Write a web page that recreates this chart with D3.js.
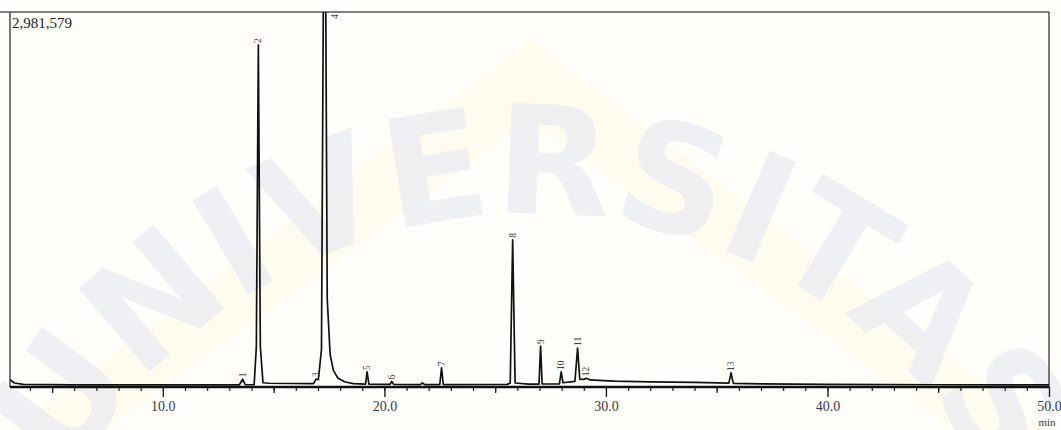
<!DOCTYPE html>
<html>
<head>
<meta charset="utf-8">
<script src="https://cdn.jsdelivr.net/npm/d3@7"></script>
<style>
	html, body { margin: 0; padding: 0; background: #fffefa; }
	svg { display: block; }
	.tick text { font-family: "Liberation Serif", "DejaVu Serif", serif; }
</style>
</head>
<body>
<div id="chrom"></div>
<script>
// chromatogram trace: [time (min), intensity]
var trace = [
	[ 3.10, 58000 ], [ 3.30, 32000 ], [ 3.70, 21000 ], [ 6.00, 17000 ], [ 13.45, 17000 ],
	[ 13.60, 62000 ], [ 13.72, 18000 ], [ 14.12, 19000 ], [ 14.22, 320000 ], [ 14.31, 2719000 ],
	[ 14.40, 320000 ], [ 14.52, 34000 ], [ 14.80, 30000 ], [ 16.80, 27000 ], [ 16.92, 64000 ],
	[ 17.02, 58000 ], [ 17.16, 300000 ], [ 17.30, 4900000 ], [ 17.42, 700000 ], [ 17.55, 260000 ],
	[ 17.70, 130000 ], [ 17.90, 72000 ], [ 18.20, 42000 ], [ 18.60, 27000 ], [ 19.15, 23000 ],
	[ 19.22, 120000 ], [ 19.30, 23000 ], [ 20.25, 21000 ], [ 20.33, 44000 ], [ 20.42, 21000 ],
	[ 21.62, 19000 ], [ 21.72, 32000 ], [ 21.82, 19000 ], [ 22.50, 19000 ], [ 22.58, 152000 ],
	[ 22.66, 19000 ], [ 25.55, 21000 ], [ 25.68, 32000 ], [ 25.79, 1170000 ], [ 25.90, 32000 ],
	[ 26.50, 23000 ], [ 26.98, 23000 ], [ 27.05, 326000 ], [ 27.12, 24000 ], [ 27.90, 24000 ],
	[ 27.98, 120000 ], [ 28.06, 34000 ], [ 28.60, 44000 ], [ 28.72, 310000 ], [ 28.82, 62000 ],
	[ 29.00, 60000 ], [ 29.10, 70000 ], [ 29.30, 56000 ], [ 29.90, 50000 ], [ 30.40, 46000 ],
	[ 32.00, 41000 ], [ 34.00, 36000 ], [ 35.55, 31000 ], [ 35.65, 112000 ], [ 35.75, 29000 ],
	[ 37.00, 25000 ], [ 40.00, 21000 ], [ 45.00, 18000 ], [ 50.00, 17000 ]
];

// peak numbers, retention times and apex heights
var peakNums = [ "1", "2", "3", "4", "5", "6", "7", "8", "9", "10", "11", "12", "13" ];
var peakTimes = [ 13.60, 14.31, 16.92, 17.30, 19.22, 20.33, 22.58, 25.79, 27.05, 27.98, 28.72, 29.10, 35.65 ];
var peakHeights = [ 62000, 2719000, 64000, 4900000, 120000, 44000, 152000, 1170000, 326000, 120000, 310000, 70000, 112000 ];

// axis settings
var timeRange = [ 3.1, 50 ];
var yMax = 2981579;
var majorTicks = [ 10, 20, 30, 40, 50 ];
var midTicks = [ 5, 15, 25, 35, 45 ];
var minorTicks = d3.range( 4, 50 );

var W = 1061, H = 430,
	frame = { left: 10, right: 1049, top: 12, bottom: 387 };

var svg = d3.select( "#chrom" ).append( "svg" )
	.attr( "width", W )
	.attr( "height", H );

/* faint watermark behind the chart */
var wm = svg.append( "g" ).attr( "class", "watermark" );
wm.append( "path" )
	.attr( "d", "M-40,470 L530,40 L1100,470 L1010,470 L530,120 L50,470 Z" )
	.attr( "fill", "#fcf8e2" )
	.attr( "opacity", 0.45 );
wm.append( "path" )
	.attr( "id", "wmArc" )
	.attr( "d", "M3,800 A530,530 0 1,1 1057,800" )
	.attr( "fill", "none" );
wm.append( "text" )
	.attr( "font-family", "DejaVu Sans, sans-serif" )
	.attr( "font-weight", "bold" )
	.attr( "font-size", 150 )
	.attr( "fill", "#ecedf3" )
	.attr( "opacity", 0.8 )
	.append( "textPath" )
	.attr( "href", "#wmArc" )
	.attr( "startOffset", "50%" )
	.attr( "text-anchor", "middle" )
	.text( "UNIVERSITAS" );

// scales
var x = d3.scaleLinear().domain( timeRange ).range( [ frame.left, frame.right ] );
var y = d3.scaleLinear().domain( [ 0, yMax ] ).range( [ frame.bottom, frame.top ] );

svg.append( "clipPath" ).attr( "id", "plotClip" )
	.append( "rect" )
	.attr( "x", frame.left ).attr( "y", frame.top )
	.attr( "width", frame.right - frame.left ).attr( "height", frame.bottom - frame.top );

// frame lines
svg.append( "line" )
	.attr( "x1", 0 ).attr( "x2", frame.right )
	.attr( "y1", frame.top ).attr( "y2", frame.top )
	.attr( "stroke", "#555" ).attr( "stroke-width", 1.6 );
svg.append( "line" )
	.attr( "x1", frame.left ).attr( "x2", frame.left )
	.attr( "y1", frame.top ).attr( "y2", frame.bottom )
	.attr( "stroke", "#333" ).attr( "stroke-width", 1.3 );
svg.append( "line" )
	.attr( "x1", frame.right ).attr( "x2", frame.right )
	.attr( "y1", frame.top ).attr( "y2", frame.bottom )
	.attr( "stroke", "#333" ).attr( "stroke-width", 1.3 );

// X axes: minor, mid and labelled ticks
function tickAxis( vals, size ) {
	return d3.axisBottom( x ).tickValues( vals ).tickSize( size ).tickFormat( "" );
}
svg.append( "g" )
	.attr( "transform", "translate(0," + frame.bottom + ")" )
	.call( tickAxis( minorTicks, 4 ) )
	.call( function ( g ) { g.select( ".domain" ).remove(); } )
	.selectAll( "line" ).attr( "stroke", "#222" ).attr( "stroke-width", 1.2 );
svg.append( "g" )
	.attr( "transform", "translate(0," + frame.bottom + ")" )
	.call( tickAxis( midTicks, 6 ) )
	.call( function ( g ) { g.select( ".domain" ).remove(); } )
	.selectAll( "line" ).attr( "stroke", "#222" ).attr( "stroke-width", 1.3 );

var xAxis = svg.append( "g" )
	.attr( "transform", "translate(0," + frame.bottom + ")" )
	.call( d3.axisBottom( x ).tickValues( majorTicks ).tickSize( 10 ).tickPadding( 4 ).tickFormat( d3.format( ".1f" ) ) );
xAxis.select( ".domain" ).remove();
xAxis.selectAll( "line" ).attr( "stroke", "#222" ).attr( "stroke-width", 1.4 );
xAxis.selectAll( "text" )
	.attr( "font-size", 14 )
	.attr( "fill", "#3a3a4a" );

// axis base line
svg.append( "line" )
	.attr( "x1", frame.left ).attr( "x2", frame.right )
	.attr( "y1", frame.bottom ).attr( "y2", frame.bottom )
	.attr( "stroke", "#111" ).attr( "stroke-width", 2.4 );

svg.append( "text" )
	.attr( "x", x( 50 ) - 2 ).attr( "y", 426 )
	.attr( "text-anchor", "middle" )
	.attr( "font-family", "Liberation Serif, serif" )
	.attr( "font-size", 11 )
	.attr( "fill", "#3a3a4a" )
	.text( "min" );

// intensity label
svg.append( "text" )
	.attr( "x", frame.left + 2 ).attr( "y", 28 )
	.attr( "font-family", "Liberation Serif, serif" )
	.attr( "font-size", 15 )
	.attr( "fill", "#222" )
	.text( d3.format( "," )( yMax ) );

// signal line
var line = d3.line()
	.x( function ( d ) { return x( d[ 0 ] ); } )
	.y( function ( d ) { return y( d[ 1 ] ); } );

svg.append( "path" )
	.datum( trace )
	.attr( "clip-path", "url(#plotClip)" )
	.attr( "fill", "none" )
	.attr( "stroke", "#111" )
	.attr( "stroke-width", 1.7 )
	.attr( "stroke-linejoin", "round" )
	.attr( "d", line );

// peak labels, rotated
peakNums.forEach( function ( n, i ) {
	var px = x( peakTimes[ i ] ),
		py = y( peakHeights[ i ] ),
		off = py < frame.top;
	svg.append( "text" )
		.attr( "transform", off ?
			"translate(" + ( px + 13 ) + "," + ( frame.top + 2 ) + ") rotate(-90)" :
			"translate(" + ( px + 3 ) + "," + ( py - 2 ) + ") rotate(-90)" )
		.attr( "text-anchor", off ? "end" : "start" )
		.attr( "font-family", "Liberation Serif, serif" )
		.attr( "font-size", 9.5 )
		.attr( "fill", "#444" )
		.text( n );
} );
</script>
</body>
</html>
